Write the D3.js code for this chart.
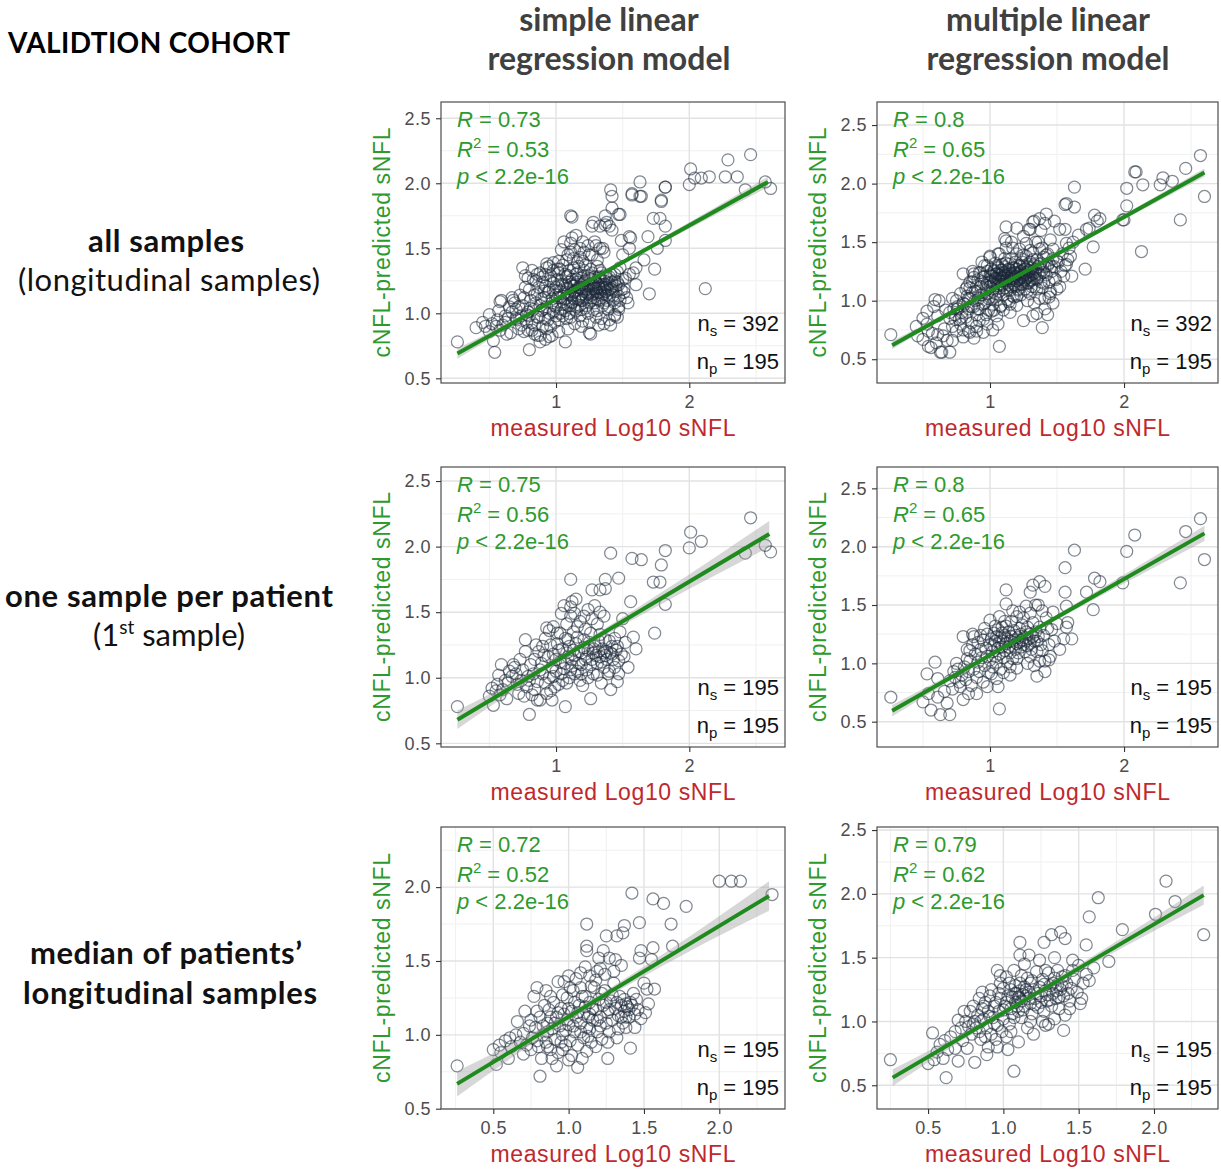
<!DOCTYPE html>
<html lang="en">
<head>
<meta charset="UTF-8">
<title>Validation cohort - cNFL vs sNFL</title>
<script src="https://d3js.org/d3.v7.min.js"></script>
<style>
  body { margin: 0; background: #fff; }
</style>
</head>
<body>
<script>
// ---------------- labels ----------------
const cohortTitle = "VALIDTION COHORT";
const colTitles = [["simple linear", "regression model"], ["multiple linear", "regression model"]];
const xTitle = "measured Log10 sNFL";
const yTitle = "cNFL-predicted sNFL";

// stats per panel (row by row, left then right)
const rValues  = ["0.73", "0.8", "0.75", "0.8", "0.72", "0.79"];
const r2Values = ["0.53", "0.65", "0.56", "0.65", "0.52", "0.62"];
const pValues  = ["2.2e-16", "2.2e-16", "2.2e-16", "2.2e-16", "2.2e-16", "2.2e-16"];
const nSamples  = [392, 392, 195, 195, 195, 195];
const nPatients = [195, 195, 195, 195, 195, 195];

// axis ticks
const xTicksRow = [[1, 2], [1, 2], [0.5, 1.0, 1.5, 2.0]];
const yTicksPanel = [
  [0.5, 1.0, 1.5, 2.0, 2.5], [0.5, 1.0, 1.5, 2.0, 2.5],
  [0.5, 1.0, 1.5, 2.0, 2.5], [0.5, 1.0, 1.5, 2.0, 2.5],
  [0.5, 1.0, 1.5, 2.0],      [0.5, 1.0, 1.5, 2.0, 2.5]
];
const xDomains = [[0.137, 2.718], [0.157, 2.701], [0.137, 2.718], [0.157, 2.701], [0.153, 2.436], [0.161, 2.425]];
const yDomains = [[0.464, 2.625], [0.297, 2.697], [0.472, 2.607], [0.283, 2.683], [0.498, 2.407], [0.314, 2.524]];

// fitted lm lines (end points) and confidence band half widths at bandAt
const fitLines = [
  [[0.26, 0.69], [2.59, 2.01]],
  [[0.27, 0.62], [2.60, 2.094]],
  [[0.26, 0.68], [2.60, 2.096]],
  [[0.27, 0.594], [2.60, 2.114]],
  [[0.26, 0.668], [2.33, 1.94]],
  [[0.265, 0.56], [2.33, 1.99]]
];
const bandAt = [0.7, 1.15, 1.8];
const bandHalf = [
  [0.04, 0.02, 0.012, 0.02, 0.04],
  [0.035, 0.017, 0.01, 0.017, 0.035],
  [0.07, 0.035, 0.022, 0.045, 0.10],
  [0.05, 0.025, 0.017, 0.03, 0.065],
  [0.085, 0.04, 0.025, 0.05, 0.10],
  [0.065, 0.03, 0.02, 0.04, 0.075]
];

// ---------------- points ----------------
// first sample per patient, simple model
const firstSimple = [
  [0.26,0.78],[0.52,0.92],[0.53,0.79],[0.55,0.90],[0.58,0.87],[0.62,0.98],[0.59,1.10],[0.68,1.10],[0.70,1.03],[0.72,0.88],
  [0.77,1.29],[0.80,0.72],[0.84,1.14],[0.88,0.83],[0.90,1.24],[0.93,1.38],[0.97,0.83],[0.98,1.39],[1.07,0.78],[1.11,1.75],
  [1.12,1.58],[1.11,1.54],[1.08,1.41],[1.14,1.49],[1.16,1.31],[1.19,1.03],[1.26,0.84],[1.27,1.67],[1.33,1.67],[1.37,1.75],
  [1.37,1.68],[1.41,1.95],[1.47,1.76],[1.33,1.50],[1.24,1.52],[1.31,1.41],[1.28,1.19],[1.36,1.19],[1.41,1.19],[1.46,1.24],
  [1.51,1.16],[1.47,1.03],[1.46,0.97],[1.41,0.91],[1.34,0.96],[1.48,1.35],[1.56,1.58],[1.57,1.91],[1.64,1.90],[1.58,1.31],
  [1.60,1.22],[1.74,1.34],[1.73,1.73],[1.78,1.73],[1.79,1.86],[1.82,1.97],[1.82,1.56],[2.00,1.99],[2.01,2.11],[2.09,2.04],
  [2.46,2.22],[2.42,1.95],[2.57,2.01],[2.61,1.96],
  [0.60,0.91],[0.64,0.96],[0.67,1.01],[0.69,1.08],[0.73,1.14],[0.74,0.98],[0.78,0.93],[0.76,0.86],[0.79,1.01],[0.83,1.03],
  [0.84,0.91],[0.86,0.83],[0.87,1.20],[0.89,1.11],[0.90,1.03],[0.92,0.96],[0.93,0.88],[0.94,1.16],[0.96,1.25],[0.97,1.08],
  [0.98,1.01],[0.99,0.93],[1.00,1.14],[1.02,1.21],[1.03,1.34],[1.04,1.03],[1.05,0.98],[1.07,1.11],[1.08,1.19],[1.09,1.29],
  [1.11,1.06],[1.12,1.14],[1.13,1.21],[1.14,1.03],[1.16,1.39],[1.17,1.11],[1.18,0.98],[1.19,1.19],[1.21,1.29],[1.22,1.14],
  [1.23,1.06],[1.24,1.21],[1.26,1.34],[1.27,1.14],[1.28,1.03],[1.29,1.24],[1.31,1.11],[1.32,1.28],[1.33,1.16],[1.36,1.08],
  [1.37,1.29],[1.38,1.14],[1.39,1.03],[1.42,1.24],[1.43,1.14],[1.44,1.08],[1.21,1.47],[1.11,1.47],[1.04,1.49],[1.01,1.34],
  [0.50,0.86],[0.56,0.95],[0.57,1.02],[0.63,0.84],[0.65,1.05],[0.71,0.95],[0.75,1.06],[0.77,1.20],[0.80,0.98],[0.81,1.10],
  [0.82,0.87],[0.85,1.25],[0.86,0.97],[0.88,1.06],[0.91,1.17],[0.92,1.30],[0.95,1.00],[0.96,0.90],[0.98,1.18],[1.00,1.05],
  [1.01,1.26],[1.02,0.95],[1.03,1.12],[1.05,1.22],[1.06,1.07],[1.07,1.30],[1.08,0.96],[1.09,1.16],[1.10,1.24],[1.10,1.00],
  [1.12,1.09],[1.13,1.35],[1.14,1.17],[1.15,1.26],[1.16,1.05],[1.17,1.20],[1.18,1.43],[1.19,1.10],[1.20,0.94],[1.21,1.23],
  [1.22,1.37],[1.23,1.16],[1.24,1.00],[1.25,1.27],[1.26,1.10],[1.27,1.45],[1.28,1.22],[1.29,1.55],[1.30,1.17],[1.31,1.02],
  [1.32,1.20],[1.33,1.33],[1.34,1.12],[1.35,1.22],[1.36,1.47],[1.37,1.17],[1.38,1.20],[1.40,1.28],[1.40,1.05],[1.42,1.18],
  [1.44,1.30],[1.45,1.21],[1.47,1.13],[1.49,1.18],[1.50,1.45],[1.52,1.27],[1.54,1.08],[1.15,1.60],[1.06,1.55],[0.95,1.36]
];
// later longitudinal samples, simple model
const laterSimple = [
  [2.12,1.19],[2.04,2.04],[2.15,2.05],[2.29,2.18],[2.27,2.05],[2.36,2.05],[1.66,1.41],[1.76,1.50],[1.69,1.59],[1.82,1.67],
  [1.57,1.92],[1.63,2.01],[1.63,1.90],[1.42,1.90],[1.42,1.81],[1.42,1.64],[1.49,1.56],[0.47,0.90],[0.50,0.99],[0.54,0.70],
  [0.75,1.35],[1.60,1.35],[1.55,1.50],[1.55,1.59],[1.28,1.70],[1.30,1.52],[1.20,1.55],[1.35,1.50],[1.40,1.67],[1.38,1.70],
  [1.70,1.15],[1.25,0.85],[1.32,0.91],[1.44,0.99],[1.48,1.76],[1.12,1.74],[0.45,0.93],[0.40,0.89],[1.82,1.97],[1.79,1.87],
  [0.58,1.09],[0.67,1.12],[0.62,0.93],[0.66,0.85],[0.70,0.96],[0.72,1.05],[0.74,0.91],[0.76,1.12],[0.78,0.99],[0.79,0.87],
  [0.80,1.18],[0.81,1.04],[0.82,0.93],[0.83,1.26],[0.84,0.84],[0.85,1.08],[0.86,1.15],[0.87,0.97],[0.88,1.31],[0.89,1.02],
  [0.90,0.90],[0.91,1.12],[0.92,1.21],[0.93,1.05],[0.94,0.95],[0.95,1.18],[0.96,1.29],[0.97,1.11],[0.98,1.23],[0.99,1.06],
  [1.00,0.98],[1.00,1.20],[1.01,1.12],[1.02,1.31],[1.03,1.17],[1.03,1.00],[1.04,1.25],[1.05,1.09],[1.05,1.37],[1.06,1.15],
  [1.07,1.22],[1.07,1.02],[1.08,1.12],[1.08,1.28],[1.09,1.19],[1.09,1.06],[1.10,1.33],[1.10,1.14],[1.11,1.22],[1.11,0.97],
  [1.12,1.26],[1.12,1.08],[1.13,1.16],[1.13,1.42],[1.14,1.21],[1.14,1.11],[1.15,1.30],[1.15,1.02],[1.16,1.18],[1.16,1.24],
  [1.17,1.13],[1.17,1.36],[1.18,1.20],[1.18,1.06],[1.19,1.27],[1.19,1.15],[1.20,1.22],[1.20,1.10],[1.21,1.17],[1.21,1.33],
  [1.22,1.25],[1.22,1.04],[1.23,1.19],[1.23,1.12],[1.24,1.29],[1.24,1.15],[1.25,1.22],[1.25,1.08],[1.26,1.18],[1.26,1.26],
  [1.27,1.12],[1.27,1.31],[1.28,1.21],[1.28,1.15],[1.29,1.08],[1.29,1.28],[1.30,1.19],[1.30,1.24],[1.31,1.16],[1.31,1.36],
  [1.32,1.22],[1.32,1.10],[1.33,1.27],[1.33,1.19],[1.34,1.14],[1.34,1.31],[1.35,1.20],[1.35,1.06],[1.36,1.25],[1.36,1.15],
  [1.37,1.22],[1.38,1.10],[1.38,1.27],[1.39,1.18],[1.40,1.23],[1.40,1.13],[1.41,1.30],[1.42,1.20],[1.43,1.10],[1.44,1.25],
  [1.45,1.17],[1.46,1.32],[1.47,1.22],[1.48,1.10],[1.50,1.26],[1.51,1.19],[1.53,1.12],[1.55,1.30],[1.47,1.05],[1.44,0.98],
  [1.40,0.95],[1.36,0.92],[1.30,0.97],[1.25,0.93],[1.19,0.90],[1.14,0.92],[1.09,0.88],[1.02,0.86],[0.95,0.82],[0.92,0.80],
  [0.88,0.78],[1.20,1.40],[1.25,1.45],[1.18,1.50],[1.09,1.45],[1.02,1.40],[0.98,1.33],[0.93,1.35],[0.90,1.28],[0.86,1.30],
  [0.82,1.33],[0.79,1.27]
];

// first sample per patient, multiple model
const firstMultiple = [
  [0.26,0.71],[0.53,0.91],[0.59,1.01],[0.50,0.67],[0.56,0.60],[0.63,0.56],[0.70,0.56],[0.68,0.66],[0.66,0.76],[0.61,0.71],
  [0.54,0.74],[0.61,0.87],[1.07,0.61],[1.06,0.80],[0.98,0.80],[1.35,0.89],[1.41,0.93],[1.20,0.96],[1.12,1.63],[1.12,1.51],
  [1.30,1.61],[1.32,1.67],[1.37,1.70],[1.41,1.66],[1.34,1.50],[1.56,1.61],[1.57,1.49],[1.57,1.31],[1.61,1.21],[1.63,1.97],
  [1.56,1.82],[1.72,1.61],[1.77,1.46],[1.78,1.73],[1.82,1.70],[1.99,1.69],[2.02,1.96],[2.08,2.10],[2.42,1.69],[2.46,2.13],
  [2.57,2.24],[2.60,1.89],
  [0.73,0.93],[0.75,1.00],[0.78,0.80],[0.80,0.69],[0.80,1.23],[0.83,1.04],[0.84,0.74],[0.85,1.11],[0.88,1.23],[0.90,0.74],
  [0.93,1.24],[1.00,1.37],[1.07,1.40],[1.09,1.31],[1.20,1.40],[1.25,1.39],[1.27,1.49],[1.36,1.50],[1.42,1.39],[1.47,1.44],
  [1.50,1.34],[1.46,1.29],[1.44,1.16],[1.45,1.06],[1.44,1.03],[1.39,1.11],[1.35,1.19],[1.32,1.23],[1.30,1.06],[1.20,1.04],
  [1.15,0.97],[1.10,0.92],[1.05,0.87],[1.01,0.91],
  [0.70,0.85],[0.72,0.78],[0.74,0.88],[0.76,0.95],[0.77,0.84],[0.79,0.90],[0.81,0.97],[0.82,0.86],[0.83,1.12],[0.84,0.93],
  [0.85,1.02],[0.86,0.81],[0.87,1.16],[0.88,0.95],[0.89,1.08],[0.90,0.88],[0.91,1.18],[0.91,1.01],[0.92,0.93],[0.93,1.12],
  [0.94,1.05],[0.95,0.84],[0.95,1.20],[0.96,0.98],[0.97,1.13],[0.98,1.25],[0.98,1.06],[0.99,0.92],[1.00,1.16],[1.00,1.03],
  [1.01,1.21],[1.02,1.10],[1.02,0.97],[1.03,1.26],[1.03,1.15],[1.04,1.06],[1.04,1.19],[1.05,1.23],[1.05,1.01],[1.06,1.13],
  [1.06,1.29],[1.07,1.18],[1.07,1.08],[1.08,1.22],[1.08,0.95],[1.09,1.14],[1.09,1.26],[1.10,1.19],[1.10,1.05],[1.11,1.24],
  [1.11,1.11],[1.12,1.17],[1.12,1.32],[1.13,1.21],[1.13,1.01],[1.14,1.14],[1.14,1.27],[1.15,1.19],[1.15,1.09],[1.16,1.23],
  [1.16,1.36],[1.17,1.15],[1.17,1.04],[1.18,1.20],[1.18,1.28],[1.19,1.12],[1.19,1.24],[1.20,1.17],[1.21,1.22],[1.21,1.09],
  [1.22,1.30],[1.22,1.18],[1.23,1.14],[1.23,1.25],[1.24,1.20],[1.24,1.33],[1.25,1.16],[1.26,1.22],[1.26,1.10],[1.27,1.27],
  [1.27,1.19],[1.28,1.15],[1.28,1.31],[1.29,1.21],[1.30,1.25],[1.30,1.17],[1.31,1.12],[1.32,1.35],[1.33,1.19],[1.34,1.27],
  [1.35,1.10],[1.36,1.23],[1.37,1.31],[1.38,1.16],[1.40,1.24],[1.41,1.02],[1.43,1.30],[1.48,1.19],[1.52,1.12],[1.55,1.21],
  [1.58,1.35],[1.17,1.45],[1.11,1.36],[1.04,1.32],[0.96,1.30],[0.87,1.25],[1.30,1.43],[1.22,1.44],[1.39,1.45],[1.28,1.00],
  [1.33,0.98],[1.37,1.02],[1.15,0.90]
];
// later longitudinal samples, multiple model
const laterMultiple = [
  [0.46,0.70],[0.54,0.61],[0.60,0.64],[0.64,0.56],[0.53,0.80],[1.39,0.77],[1.32,0.87],[1.11,1.53],[1.29,1.61],[1.42,1.74],
  [1.33,1.68],[1.57,1.83],[1.63,1.80],[1.52,1.61],[1.71,1.27],[2.02,1.81],[2.00,1.69],[2.09,2.10],[2.14,1.99],[2.13,1.42],
  [2.27,1.99],[2.29,2.05],[2.36,2.02],[0.45,0.78],[0.50,0.85],[0.57,0.72],[0.65,0.70],[0.67,0.92],[0.72,0.66],[0.75,0.74],
  [0.62,1.00],[0.58,0.95],[0.88,0.68],[0.95,0.73],[1.02,0.75],[1.25,0.83],[1.43,0.88],[1.47,0.98],[1.50,1.10],[1.53,1.25],
  [1.60,1.38],[1.45,1.52],[1.25,1.55],[1.20,1.62],[1.38,1.60],[1.48,1.68],
  [0.70,0.90],[0.72,1.02],[0.74,0.84],[0.76,0.93],[0.78,1.06],[0.79,0.86],[0.80,0.98],[0.82,1.10],[0.83,0.90],[0.84,1.02],
  [0.85,1.16],[0.86,0.95],[0.87,1.07],[0.88,1.20],[0.89,1.00],[0.90,1.12],[0.91,0.93],[0.92,1.24],[0.93,1.05],[0.94,1.16],
  [0.95,0.97],[0.96,1.21],[0.97,1.09],[0.98,1.30],[0.98,1.15],[0.99,1.02],[1.00,1.22],[1.00,1.12],[1.01,1.27],[1.01,1.17],
  [1.02,1.08],[1.02,1.21],[1.03,1.14],[1.03,1.25],[1.04,1.19],[1.04,1.03],[1.05,1.23],[1.05,1.15],[1.06,1.28],[1.06,1.19],
  [1.07,1.11],[1.07,1.22],[1.08,1.17],[1.08,1.26],[1.09,1.20],[1.09,1.13],[1.10,1.24],[1.10,1.17],[1.11,1.29],[1.11,1.21],
  [1.12,1.15],[1.12,1.25],[1.13,1.19],[1.13,1.09],[1.14,1.23],[1.14,1.31],[1.15,1.17],[1.15,1.26],[1.16,1.21],[1.16,1.12],
  [1.17,1.28],[1.17,1.19],[1.18,1.24],[1.18,1.14],[1.19,1.33],[1.19,1.21],[1.20,1.17],[1.20,1.27],[1.21,1.23],[1.21,1.10],
  [1.22,1.29],[1.22,1.19],[1.23,1.25],[1.23,1.36],[1.24,1.21],[1.24,1.14],[1.25,1.30],[1.25,1.22],[1.26,1.18],[1.26,1.27],
  [1.27,1.24],[1.27,1.38],[1.28,1.20],[1.28,1.29],[1.29,1.15],[1.29,1.26],[1.30,1.33],[1.30,1.22],[1.31,1.28],[1.31,1.18],
  [1.32,1.25],[1.32,1.41],[1.33,1.30],[1.33,1.12],[1.34,1.24],[1.35,1.35],[1.35,1.18],[1.36,1.29],[1.37,1.22],[1.37,1.44],
  [1.38,1.32],[1.39,1.26],[1.40,1.37],[1.40,1.15],[1.41,1.29],[1.42,1.22],[1.43,1.40],[1.44,1.32],[1.45,1.08],[1.46,1.25],
  [1.47,1.36],[1.48,1.29],[1.49,1.18],[1.51,1.33],[1.54,1.40],[1.56,1.30],[1.59,1.45],[1.62,1.50],[1.66,1.56],[1.74,1.62],
  [1.80,1.68],[0.92,0.83],[0.97,0.88],[1.03,0.92],[1.08,0.96],[1.14,0.99],[1.18,1.03],[1.23,1.05],[1.28,1.08],[1.06,1.40],
  [1.12,1.45],[1.00,1.38],[0.94,1.33],[1.16,1.50],[0.90,0.78],[0.85,0.73],[0.80,0.75]
];

// median of each patient's longitudinal samples, simple model
const medianSimple = [
  [0.26,0.79],[0.50,0.90],[0.54,0.93],[0.52,0.80],[0.60,0.84],[0.61,0.98],[0.70,1.01],[0.71,1.16],[0.74,1.06],[0.79,1.16],
  [0.79,1.32],[0.81,0.72],[0.82,0.84],[0.88,1.26],[0.89,0.84],[0.93,1.36],[0.96,0.90],[1.00,1.40],[1.01,1.32],[1.06,0.78],
  [1.08,1.42],[1.12,1.75],[1.12,1.60],[1.12,1.57],[1.14,1.40],[1.19,1.43],[1.21,1.45],[1.25,1.67],[1.27,1.52],[1.32,1.67],
  [1.31,1.51],[1.36,1.69],[1.37,1.74],[1.42,1.96],[1.26,0.84],[1.41,0.91],[1.38,1.05],[1.44,1.05],[1.47,1.76],[1.47,1.52],
  [1.48,1.57],[1.50,1.35],[1.51,1.15],[1.52,1.31],[1.56,1.59],[1.55,1.51],[1.56,1.92],[1.57,1.31],[1.63,1.89],[1.68,1.75],
  [1.69,1.60],[1.78,1.87],[2.00,2.04],[2.08,2.04],[2.14,2.04],[2.35,1.95],[1.45,1.24],[1.41,1.22],
  [0.55,0.88],[0.58,0.96],[0.62,0.92],[0.65,1.00],[0.68,0.95],[0.72,0.93],[0.75,1.10],[0.76,0.98],[0.78,1.05],[0.80,0.92],
  [0.81,1.12],[0.83,1.00],[0.84,1.20],[0.85,0.95],[0.86,1.08],[0.87,1.17],[0.88,0.90],[0.89,1.04],[0.90,1.22],[0.91,0.97],
  [0.92,1.12],[0.93,0.88],[0.94,1.06],[0.95,1.18],[0.96,1.00],[0.97,1.14],[0.98,0.93],[0.99,1.25],[1.00,1.07],[1.01,0.96],
  [1.02,1.16],[1.03,1.30],[1.04,1.02],[1.05,1.12],[1.06,0.93],[1.07,1.20],[1.08,1.08],[1.09,1.26],[1.10,1.14],[1.10,0.98],
  [1.11,1.19],[1.12,1.05],[1.13,1.12],[1.14,1.22],[1.14,1.14],[1.15,0.95],[1.16,1.10],[1.17,1.32],[1.18,1.17],[1.19,1.02],
  [1.20,1.24],[1.21,1.12],[1.22,0.97],[1.23,1.20],[1.24,1.30],[1.25,1.08],[1.26,1.15],[1.27,1.02],[1.28,1.23],[1.29,1.10],
  [1.30,1.35],[1.31,1.18],[1.32,0.98],[1.33,1.13],[1.34,1.26],[1.35,1.20],[1.36,1.08],[1.37,1.16],[1.38,1.21],[1.39,1.19],
  [1.40,1.12],[1.42,1.20],[1.43,1.28],[1.46,1.17],[1.48,1.11],[1.53,1.21],[0.97,1.36],[1.05,1.38],[0.85,1.30],[1.15,1.33],
  [1.02,0.86],[0.92,0.79],[1.18,0.92],[1.12,0.89],[1.30,1.43],[1.24,1.41],[0.70,0.87],[0.66,1.09],[0.77,1.26],[1.35,1.47],
  [1.09,0.84],[1.20,1.52],
  [0.86,1.02],[0.91,1.08],[0.95,0.95],[0.99,1.10],[1.03,1.06],[1.06,1.15],[1.08,1.02],[1.11,1.26],[1.13,0.99],[1.16,1.18],
  [1.19,1.10],[1.22,1.28],[1.25,1.22],[1.27,1.17],[1.29,1.27],[1.32,1.22],[1.35,1.12],[1.37,1.24],[1.40,1.17],[1.18,1.37],
  [1.08,1.32],[1.00,1.18],[0.93,1.15],[0.88,1.12],[0.83,1.06],[0.79,0.96],[0.75,0.90],[0.98,1.03],[1.04,1.22],[1.14,1.04],
  [1.21,1.06],[1.26,0.95],[1.33,1.04],[1.38,1.12],[1.44,1.14],[0.96,1.27],[1.11,1.46],[1.23,1.57],[1.00,0.83],[0.86,0.92]
];

// median of each patient's longitudinal samples, multiple model
const medianMultiple = [
  [0.25,0.70],[0.53,0.91],[0.50,0.67],[0.54,0.70],[0.61,0.85],[0.62,0.56],[0.60,0.71],[0.68,0.79],[0.70,1.01],[0.70,0.69],
  [0.80,0.98],[0.81,0.68],[0.86,1.23],[0.89,0.74],[0.96,0.80],[0.98,1.36],[1.03,0.78],[1.07,0.61],[1.11,1.62],[1.11,1.52],
  [1.17,1.52],[1.27,1.62],[1.32,1.68],[1.38,1.70],[1.41,1.65],[1.34,1.50],[1.28,0.97],[1.40,0.93],[1.51,1.14],[1.57,1.32],
  [1.55,1.60],[1.57,1.82],[1.63,1.97],[1.70,1.47],[1.79,1.72],[2.01,1.84],[2.08,2.10],[2.14,1.94],[2.33,1.68],[1.46,1.40],
  [0.56,0.76],[0.58,0.82],[0.63,0.78],[0.65,0.88],[0.68,0.92],[0.72,0.95],[0.73,0.85],[0.75,1.00],[0.76,0.79],[0.78,1.08],
  [0.79,0.90],[0.80,1.12],[0.82,0.95],[0.83,1.05],[0.84,1.18],[0.85,0.86],[0.86,1.10],[0.87,1.02],[0.88,1.15],[0.89,0.95],
  [0.90,1.08],[0.91,1.20],[0.92,0.90],[0.93,1.03],[0.94,1.12],[0.95,0.86],[0.96,0.97],[0.97,1.08],[0.98,1.18],[0.99,0.92],
  [1.00,1.02],[1.00,1.26],[1.01,1.12],[1.02,0.88],[1.03,1.20],[1.04,0.98],[1.05,1.25],[1.05,1.10],[1.06,1.19],[1.07,1.03],
  [1.08,1.28],[1.08,1.15],[1.09,1.22],[1.10,1.08],[1.10,1.19],[1.11,1.30],[1.11,1.24],[1.12,1.16],[1.12,1.03],[1.13,1.21],
  [1.14,1.27],[1.14,1.12],[1.15,1.20],[1.16,1.34],[1.16,0.95],[1.17,1.23],[1.18,1.14],[1.18,1.30],[1.19,1.06],[1.20,1.25],
  [1.21,1.18],[1.22,1.39],[1.23,1.11],[1.24,1.27],[1.25,1.20],[1.26,1.33],[1.27,1.08],[1.28,1.24],[1.29,1.16],[1.30,1.38],
  [1.31,1.28],[1.32,1.12],[1.33,1.22],[1.34,1.34],[1.35,1.18],[1.36,1.29],[1.37,1.10],[1.38,1.25],[1.39,1.35],[1.40,1.20],
  [1.41,1.05],[1.42,1.30],[1.44,1.16],[1.45,1.26],[1.47,1.33],[1.49,1.23],[1.50,1.44],[1.53,1.30],[1.55,1.37],[1.14,1.45],
  [1.07,1.40],[1.24,1.48],[0.98,1.30],[0.92,1.25],[1.20,0.90],[1.30,0.98],[1.34,1.02],[1.10,0.84],[0.96,1.40],[1.05,0.92],
  [1.26,1.00],[1.36,1.40],[1.44,1.10],[0.85,1.00],[0.90,0.80],
  [0.77,0.96],[0.81,1.00],[0.84,0.92],[0.87,1.12],[0.91,1.04],[0.94,0.98],[0.97,1.22],[1.00,1.09],[1.02,1.15],[1.04,1.30],
  [1.06,1.06],[1.08,1.22],[1.09,1.12],[1.11,1.18],[1.13,1.09],[1.15,1.25],[1.17,1.18],[1.19,1.32],[1.21,1.13],[1.23,1.22],
  [1.25,1.15],[1.27,1.29],[1.29,1.21],[1.31,1.17],[1.33,1.30],[1.35,1.24],[1.37,1.19],[1.39,1.28],[1.41,1.36],[1.43,1.22],
  [1.12,1.36],[1.02,1.35],[0.95,1.15],[0.88,0.88],[1.18,1.00],[1.28,1.40],[1.46,1.48],[1.52,1.18],[1.60,1.42],[0.74,1.08]
];

const panelPoints = [
  firstSimple.concat(laterSimple), firstMultiple.concat(laterMultiple),
  firstSimple, firstMultiple,
  medianSimple, medianMultiple
];

// ---------------- layout ----------------
const W = 1221, H = 1171;
const colBox = [[441, 785], [877, 1218]];
const rowBox = [[102, 383], [467, 747], [827, 1109]];

const green = "#2e9a2e", lineGreen = "#1f8b1f", red = "#c0282d";

const svg = d3.select("body").append("svg")
  .attr("width", W)
  .attr("height", H)
  .style("font-family", "'Liberation Sans', Arial, sans-serif");

// cohort title
svg.append("text")
  .attr("x", 8).attr("y", 53)
  .attr("font-family", "Lato, 'Open Sans', sans-serif")
  .attr("font-weight", "bold")
  .attr("font-size", 28)
  .attr("textLength", 282)
  .attr("fill", "#000")
  .text(cohortTitle);

// column titles
const colCenters = [609, 1048];
colTitles.forEach((lines, c) => {
  lines.forEach((t, k) => {
    svg.append("text")
      .attr("x", colCenters[c]).attr("y", k === 0 ? 31 : 70)
      .attr("text-anchor", "middle")
      .attr("font-family", "Lato, 'Open Sans', sans-serif")
      .attr("font-weight", "bold")
      .attr("font-size", 32)
      .attr("fill", "#404040")
      .text(t);
  });
});

// row labels
const rowFont = "Lato, 'Open Sans', sans-serif";
function rowText(x, y, txt, bold, len) {
  return svg.append("text")
    .attr("x", x).attr("y", y)
    .attr("text-anchor", "middle")
    .attr("font-family", rowFont)
    .attr("font-weight", bold ? "bold" : "normal")
    .attr("font-size", 31)
    .attr("textLength", len)
    .attr("fill", "#111")
    .text(txt);
}
rowText(166, 252, "all samples", true, 156);
rowText(169, 291, "(longitudinal samples)", false, 302);
rowText(169, 607, "one sample per patient", true, 328);
const firstLbl = svg.append("text")
  .attr("x", 169).attr("y", 646)
  .attr("text-anchor", "middle")
  .attr("font-family", rowFont)
  .attr("font-size", 31)
  .attr("fill", "#111");
firstLbl.append("tspan").text("(1");
firstLbl.append("tspan").attr("font-size", 19).attr("dy", -12).text("st");
firstLbl.append("tspan").attr("dy", 12).text(" sample)");
rowText(166, 964, "median of patients\u2019", true, 272);
rowText(170, 1004, "longitudinal samples", true, 294);

// ---------------- panels ----------------
const fmt1 = d3.format(".1f");

panelPoints.forEach((pts, i) => {
  const row = Math.floor(i / 2), col = i % 2;
  const [x0, x1] = colBox[col];
  const [y0, y1] = rowBox[row];

  const x = d3.scaleLinear().domain(xDomains[i]).range([x0, x1]);
  const y = d3.scaleLinear().domain(yDomains[i]).range([y1, y0]);

  const xTicks = xTicksRow[row];
  const yTicks = yTicksPanel[i];

  const g = svg.append("g");

  // minor grid (half way between majors)
  function minors(ticks, dom) {
    const step = ticks.length > 1 ? ticks[1] - ticks[0] : 1;
    const out = [];
    for (let m = ticks[0] - step / 2; m <= dom[1]; m += step) {
      if (m >= dom[0]) out.push(m);
    }
    return out;
  }
  g.selectAll(".mx").data(minors(xTicks, xDomains[i])).join("line")
    .attr("x1", d => x(d)).attr("x2", d => x(d))
    .attr("y1", y0).attr("y2", y1)
    .attr("stroke", "#f0f0f0").attr("stroke-width", 1);
  g.selectAll(".my").data(minors(yTicks, yDomains[i])).join("line")
    .attr("y1", d => y(d)).attr("y2", d => y(d))
    .attr("x1", x0).attr("x2", x1)
    .attr("stroke", "#f0f0f0").attr("stroke-width", 1);
  // major grid
  g.selectAll(".gx").data(xTicks).join("line")
    .attr("x1", d => x(d)).attr("x2", d => x(d))
    .attr("y1", y0).attr("y2", y1)
    .attr("stroke", "#e2e2e2").attr("stroke-width", 1.4);
  g.selectAll(".gy").data(yTicks).join("line")
    .attr("y1", d => y(d)).attr("y2", d => y(d))
    .attr("x1", x0).attr("x2", x1)
    .attr("stroke", "#e2e2e2").attr("stroke-width", 1.4);

  // points
  g.append("g").selectAll("circle").data(pts).join("circle")
    .attr("cx", d => x(d[0]))
    .attr("cy", d => y(d[1]))
    .attr("r", 6)
    .attr("fill", "none")
    .attr("stroke", "#1b2838")
    .attr("stroke-opacity", 0.55)
    .attr("stroke-width", 1.25);

  // fit + confidence band
  const fit = fitLines[i];
  const fitScale = d3.scaleLinear().domain([fit[0][0], fit[1][0]]).range([fit[0][1], fit[1][1]]);
  const bx = [fit[0][0]].concat(bandAt, [fit[1][0]]);
  const band = bx.map((v, k) => [v, fitScale(v) - bandHalf[i][k], fitScale(v) + bandHalf[i][k]]);
  g.append("path")
    .datum(band)
    .attr("d", d3.area()
      .x(d => x(d[0]))
      .y0(d => y(d[1]))
      .y1(d => y(d[2]))
      .curve(d3.curveMonotoneX))
    .attr("fill", "#9a9a9a")
    .attr("fill-opacity", 0.4);
  g.append("line")
    .attr("x1", x(fit[0][0])).attr("y1", y(fit[0][1]))
    .attr("x2", x(fit[1][0])).attr("y2", y(fit[1][1]))
    .attr("stroke", lineGreen)
    .attr("stroke-width", 4);

  // border
  g.append("rect")
    .attr("x", x0).attr("y", y0)
    .attr("width", x1 - x0).attr("height", y1 - y0)
    .attr("fill", "none")
    .attr("stroke", "#4d4d4d")
    .attr("stroke-width", 1.2);

  // axes
  const xAxis = g.append("g")
    .attr("transform", `translate(0,${y1})`)
    .call(d3.axisBottom(x).tickValues(xTicks).tickSize(5).tickPadding(7)
      .tickFormat(row === 2 ? fmt1 : d3.format("d")));
  const yAxis = g.append("g")
    .attr("transform", `translate(${x0},0)`)
    .call(d3.axisLeft(y).tickValues(yTicks).tickSize(5).tickPadding(5).tickFormat(fmt1));
  [xAxis, yAxis].forEach(a => {
    a.select(".domain").remove();
    a.selectAll(".tick line").attr("stroke", "#333").attr("stroke-width", 1.1);
    a.selectAll(".tick text")
      .attr("fill", "#4d4d4d")
      .style("font-size", "18px")
      .style("letter-spacing", "0.5px")
      .style("font-family", "'Liberation Sans', Arial, sans-serif");
  });

  // axis titles
  g.append("text")
    .attr("x", (x0 + x1) / 2).attr("y", y1 + 53)
    .attr("text-anchor", "middle")
    .attr("font-size", 23)
    .attr("textLength", 245)
    .attr("fill", red)
    .text(xTitle);
  g.append("text")
    .attr("transform", `translate(${x0 - 51},${(y0 + y1) / 2}) rotate(-90)`)
    .attr("text-anchor", "middle")
    .attr("font-size", 23)
    .attr("textLength", 230)
    .attr("fill", green)
    .text(yTitle);

  // correlation annotation
  const ax = x0 + 16;
  const fs = 22;
  const t1 = g.append("text").attr("x", ax).attr("y", y0 + 25).attr("font-size", fs).attr("fill", green);
  t1.append("tspan").attr("font-style", "italic").text("R");
  t1.append("tspan").text(" = " + rValues[i]);
  const t2 = g.append("text").attr("x", ax).attr("y", y0 + 55).attr("font-size", fs).attr("fill", green);
  t2.append("tspan").attr("font-style", "italic").text("R");
  t2.append("tspan").attr("font-size", 15).attr("dy", -9).text("2");
  t2.append("tspan").attr("dy", 9).text(" = " + r2Values[i]);
  const t3 = g.append("text").attr("x", ax).attr("y", y0 + 82).attr("font-size", fs).attr("fill", green);
  t3.append("tspan").attr("font-style", "italic").text("p");
  t3.append("tspan").text(" < " + pValues[i]);

  // sample counts
  const nx = x1 - 6;
  const n1 = g.append("text").attr("x", nx).attr("y", y1 - 52).attr("text-anchor", "end")
    .attr("font-size", fs).attr("fill", "#111");
  n1.append("tspan").text("n");
  n1.append("tspan").attr("font-size", 15).attr("dy", 5).text("s");
  n1.append("tspan").attr("dy", -5).text(" = " + nSamples[i]);
  const n2 = g.append("text").attr("x", nx).attr("y", y1 - 14).attr("text-anchor", "end")
    .attr("font-size", fs).attr("fill", "#111");
  n2.append("tspan").text("n");
  n2.append("tspan").attr("font-size", 15).attr("dy", 5).text("p");
  n2.append("tspan").attr("dy", -5).text(" = " + nPatients[i]);
});
</script>
</body>
</html>
